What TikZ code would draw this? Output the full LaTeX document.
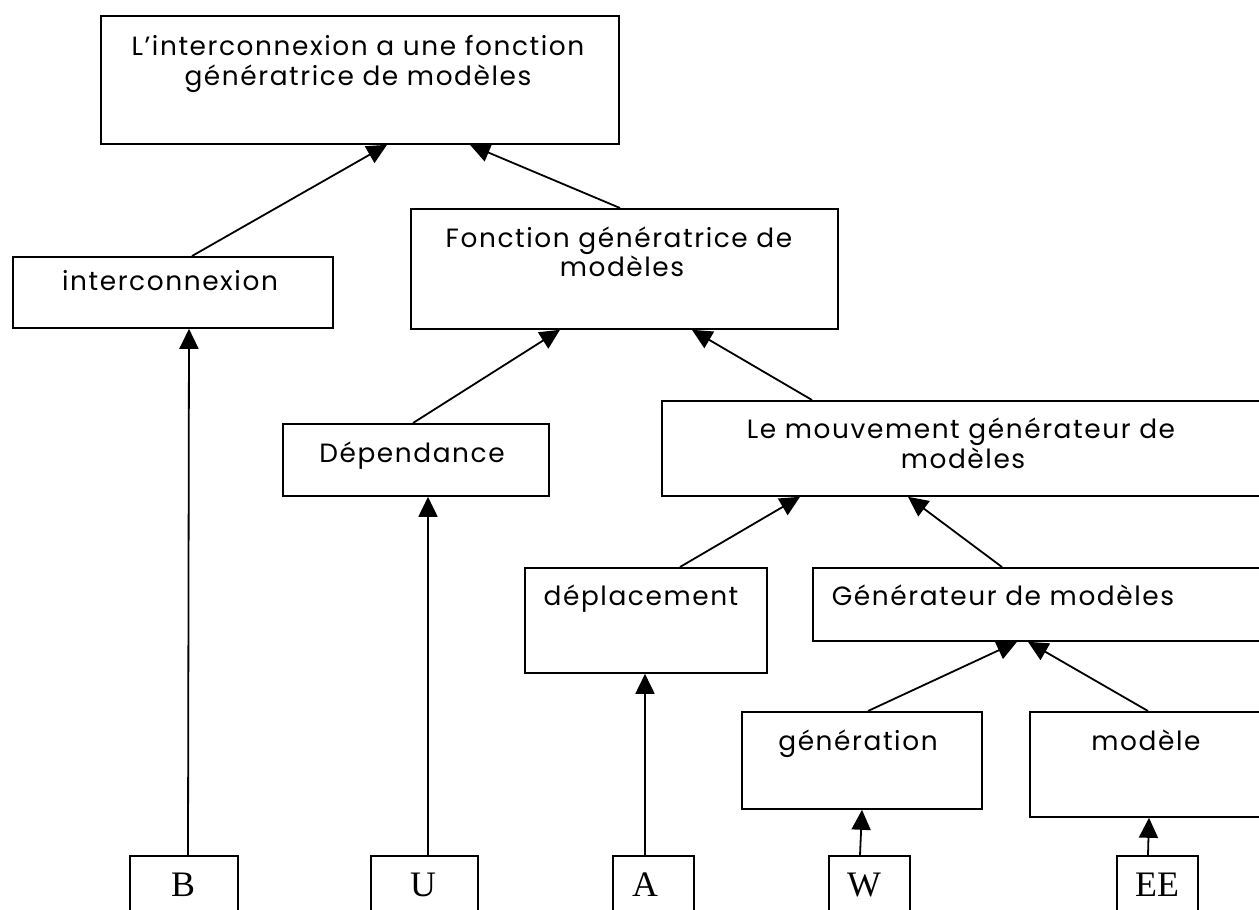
\documentclass[tikz,border=0pt]{standalone}
\usepackage{fontspec}
\setmainfont[LetterSpace=6]{Poppins}
\newfontfamily\serifletters{Liberation Serif}
\usetikzlibrary{arrows.meta}
\begin{document}
\begin{tikzpicture}[x=1bp,y=-1bp,
  box/.style={draw,line width=1.8bp,inner sep=0pt,anchor=north west},
  lbl/.style={font=\fontsize{26.5}{28}\selectfont,inner sep=0pt,anchor=base},
  letter/.style={font=\serifletters\fontsize{36}{36}\selectfont,inner sep=0pt,anchor=base},
  arr/.style={line width=1.8bp,-{Triangle[length=20bp,width=19bp]}},
]
\clip (0,0) rectangle (1259,910);

% boxes
\node[box,minimum width=518bp,minimum height=128bp] (top) at (100,15) {};
\node[box,minimum width=320bp,minimum height=71bp]  (intc) at (12,256) {};
\node[box,minimum width=427bp,minimum height=120bp] (fgm) at (410,208) {};
\node[box,minimum width=266bp,minimum height=72bp]  (dep) at (282,423) {};
\node[box,minimum width=640bp,minimum height=95bp]  (mouv) at (661,400) {};
\node[box,minimum width=242bp,minimum height=105bp] (depl) at (524,567) {};
\node[box,minimum width=480bp,minimum height=73bp]  (gen) at (812,567) {};
\node[box,minimum width=240bp,minimum height=97bp]  (gene) at (741,711) {};
\node[box,minimum width=260bp,minimum height=105bp] (mod) at (1029,711) {};
\node[box,minimum width=108bp,minimum height=80bp]  (B) at (129,855) {};
\node[box,minimum width=107bp,minimum height=80bp]  (U) at (370,855) {};
\node[box,minimum width=81bp,minimum height=80bp]   (A) at (612,855) {};
\node[box,minimum width=81bp,minimum height=80bp]   (W) at (828,855) {};
\node[box,minimum width=81bp,minimum height=80bp]   (EE) at (1116,855) {};

% labels
\node[lbl] (t1) at (358,55) {L’interconnexion a une fonction};
\node[lbl] (t2) at (358,85) {génératrice de modèles};
\node[lbl] (t3) at (170,290) {interconnexion};
\node[lbl] (t4) at (619,247) {Fonction génératrice de};
\node[lbl] (t5) at (622,276) {modèles};
\node[lbl] (t6) at (412,462) {Dépendance};
\node[lbl] (t7) at (961,438) {Le mouvement générateur de};
\node[lbl] (t8) at (963,468) {modèles};
\node[lbl] (t9) at (641,605) {déplacement};
\node[lbl] (t10) at (1003,605) {Générateur de modèles};
\node[lbl] (t11) at (858,750) {génération};
\node[lbl] (t12) at (1146,750) {modèle};
\node[letter] (l1) at (183,896) {B};
\node[letter] (l2) at (423,896) {U};
\node[letter] (l3) at (645,896) {A};
\node[letter] (l4) at (864,896) {W};
\node[letter] (l5) at (1157,896) {EE};

% connectors
\draw[arr] (intc.north -| 192,0) -- (top.south -| 387,0);
\draw[arr] (fgm.north -| 620,0) -- (top.south -| 470,0);
\draw[arr] (dep.north -| 413,0) -- (fgm.south -| 560,0);
\draw[arr] (mouv.north -| 812,0) -- (fgm.south -| 692,0);
\draw[arr] (depl.north -| 680,0) -- (mouv.south -| 800,0);
\draw[arr] (gen.north -| 1002,0) -- (mouv.south -| 908,0);
\draw[arr] (gene.north -| 868,0) -- (gen.south -| 1017,0);
\draw[arr] (mod.north -| 1148,0) -- (gen.south -| 1028,0);
\draw[arr] (B.north -| 188,0) -- (intc.south -| 189,0);
\draw[arr] (U.north -| 428,0) -- (dep.south -| 428,0);
\draw[arr] (A.north -| 645,0) -- (depl.south -| 645,0);
\draw[arr] (W.north -| 860,0) -- (gene.south -| 862,0);
\draw[arr] (EE.north -| 1148,0) -- (mod.south -| 1149,0);
\end{tikzpicture}
\end{document}
